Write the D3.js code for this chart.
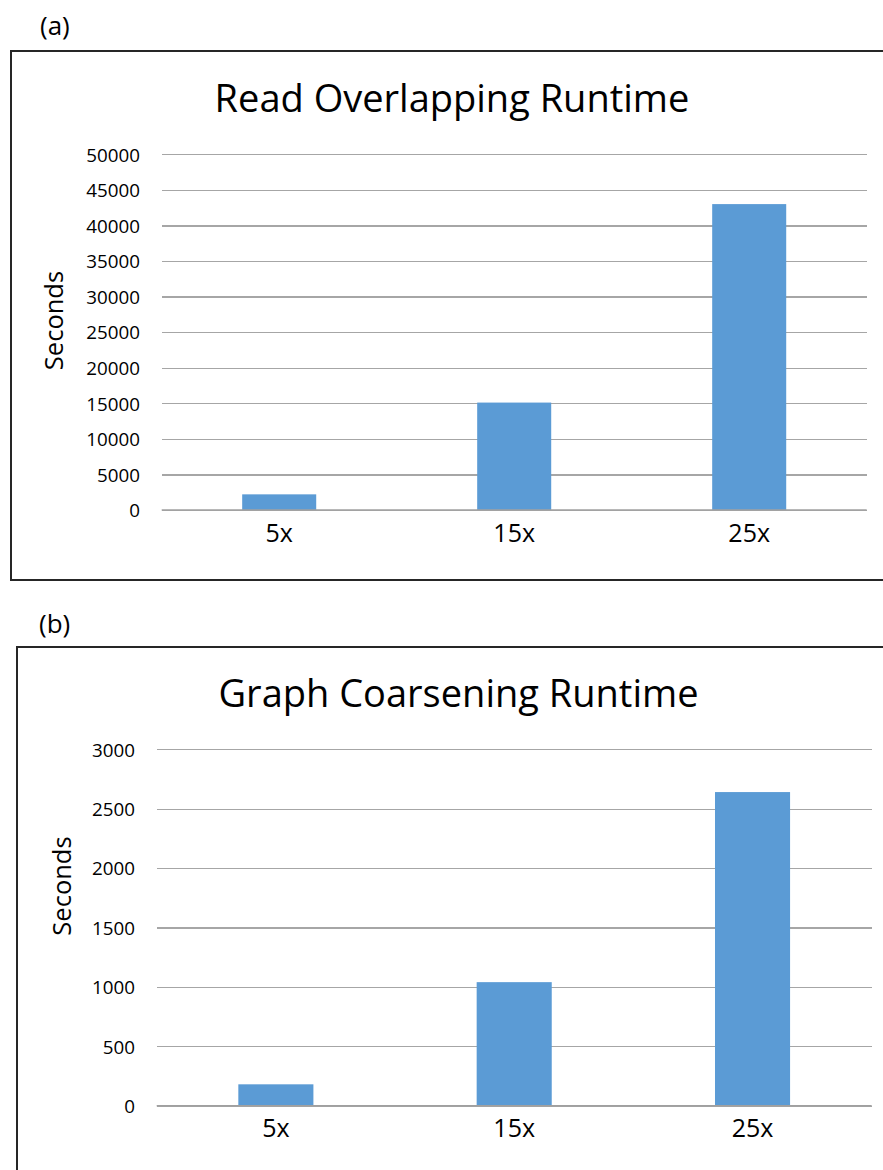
<!DOCTYPE html>
<html>
<head>
<meta charset="utf-8">
<script src="https://cdn.jsdelivr.net/npm/d3@7"></script>
<style>
  html, body { margin: 0; padding: 0; background: #fff; }
  svg { display: block; }
  text { font-family: "Open Sans", "Noto Sans", sans-serif; fill: #000; }
</style>
</head>
<body>
<svg id="chart" width="883" height="1170"></svg>
<script>
// ---- data ----
const categories = ["5x", "15x", "25x"];
const overlapValues = [2200, 15100, 43000];
const coarseningValues = [180, 1040, 2640];
const overlapTicks = [0, 5000, 10000, 15000, 20000, 25000, 30000, 35000, 40000, 45000, 50000];
const coarseningTicks = [0, 500, 1000, 1500, 2000, 2500, 3000];
const panelLabels = ["(a)", "(b)"];
const titles = ["Read Overlapping Runtime", "Graph Coarsening Runtime"];
const yAxisTitle = "Seconds";

// ---- layout ----
const svg = d3.select("#chart");

const panels = [
  {
    label: panelLabels[0], labelX: 40, labelY: 35,
    frame: { x: 11, y: 51, w: 900, h: 529 },
    title: titles[0], titleX: 452, titleY: 112,
    x0: 161.7, x1: 866.7, yTop: 154.3, yBase: 510,
    values: overlapValues, ticks: overlapTicks,
    yTitleX: 63, yTitleY: 320.5
  },
  {
    label: panelLabels[1], labelX: 39, labelY: 633,
    frame: { x: 17, y: 647, w: 900, h: 600 },
    title: titles[1], titleX: 458.5, titleY: 707,
    x0: 156.7, x1: 871.7, yTop: 749.3, yBase: 1105.7,
    values: coarseningValues, ticks: coarseningTicks,
    yTitleX: 71, yTitleY: 886
  }
];

panels.forEach(p => {
  const g = svg.append("g");

  // panel label
  g.append("text").attr("x", p.labelX).attr("y", p.labelY)
    .attr("font-size", 26).text(p.label);

  // frame
  g.append("rect")
    .attr("x", p.frame.x).attr("y", p.frame.y)
    .attr("width", p.frame.w).attr("height", p.frame.h)
    .attr("fill", "none").attr("stroke", "#262626").attr("stroke-width", 2);

  // title
  g.append("text").attr("x", p.titleX).attr("y", p.titleY)
    .attr("text-anchor", "middle").attr("font-size", 38)
    .text(p.title);

  // scales
  const x = d3.scaleBand().domain(categories).range([p.x0, p.x1]).padding(0);
  const y = d3.scaleLinear().domain([0, d3.max(p.ticks)]).range([p.yBase, p.yTop]);

  // gridlines via axis
  const grid = d3.axisLeft(y).tickValues(p.ticks).tickSize(-(p.x1 - p.x0)).tickFormat("");
  const gg = g.append("g").attr("transform", `translate(${p.x0},0)`).call(grid);
  gg.select(".domain").remove();
  gg.selectAll(".tick line").attr("stroke", "#a6a6a6").attr("stroke-width", 1.3)
    .attr("shape-rendering", "crispEdges");

  // tick labels
  const tl = d3.axisLeft(y).tickValues(p.ticks).tickSize(0).tickPadding(0).tickFormat(d3.format("d"));
  const ta = g.append("g").attr("transform", `translate(${p.x0 - 21.7},0)`).call(tl);
  ta.select(".domain").remove();
  ta.selectAll(".tick text")
    .attr("font-family", "'Open Sans', sans-serif")
    .attr("font-size", 18.8).attr("fill", "#000")
    .attr("dy", "0.36em");

  // bars
  const bw = x.bandwidth() * 0.315;
  g.selectAll("rect.bar").data(p.values).enter().append("rect")
    .attr("class", "bar")
    .attr("x", (d, i) => x(categories[i]) + (x.bandwidth() - bw) / 2)
    .attr("width", bw)
    .attr("y", d => y(d))
    .attr("height", d => y(0) - y(d))
    .attr("fill", "#5b9bd5");

  // baseline
  g.append("line").attr("x1", p.x0).attr("x2", p.x1)
    .attr("y1", y(0)).attr("y2", y(0))
    .attr("stroke", "#a0a0a0").attr("stroke-width", 1.5);

  // category axis labels
  const xa = d3.axisBottom(x).tickSize(0).tickPadding(0);
  const xg = g.append("g").attr("transform", `translate(0,${p.yBase})`).call(xa);
  xg.select(".domain").remove();
  xg.selectAll(".tick text")
    .attr("font-family", "'Open Sans', sans-serif")
    .attr("font-size", 25).attr("fill", "#000")
    .attr("dy", 0).attr("y", 31.7);

  // y axis title
  g.append("text")
    .attr("transform", `translate(${p.yTitleX},${p.yTitleY}) rotate(-90)`)
    .attr("text-anchor", "middle").attr("font-size", 25.5)
    .text(yAxisTitle);
});
</script>
</body>
</html>
